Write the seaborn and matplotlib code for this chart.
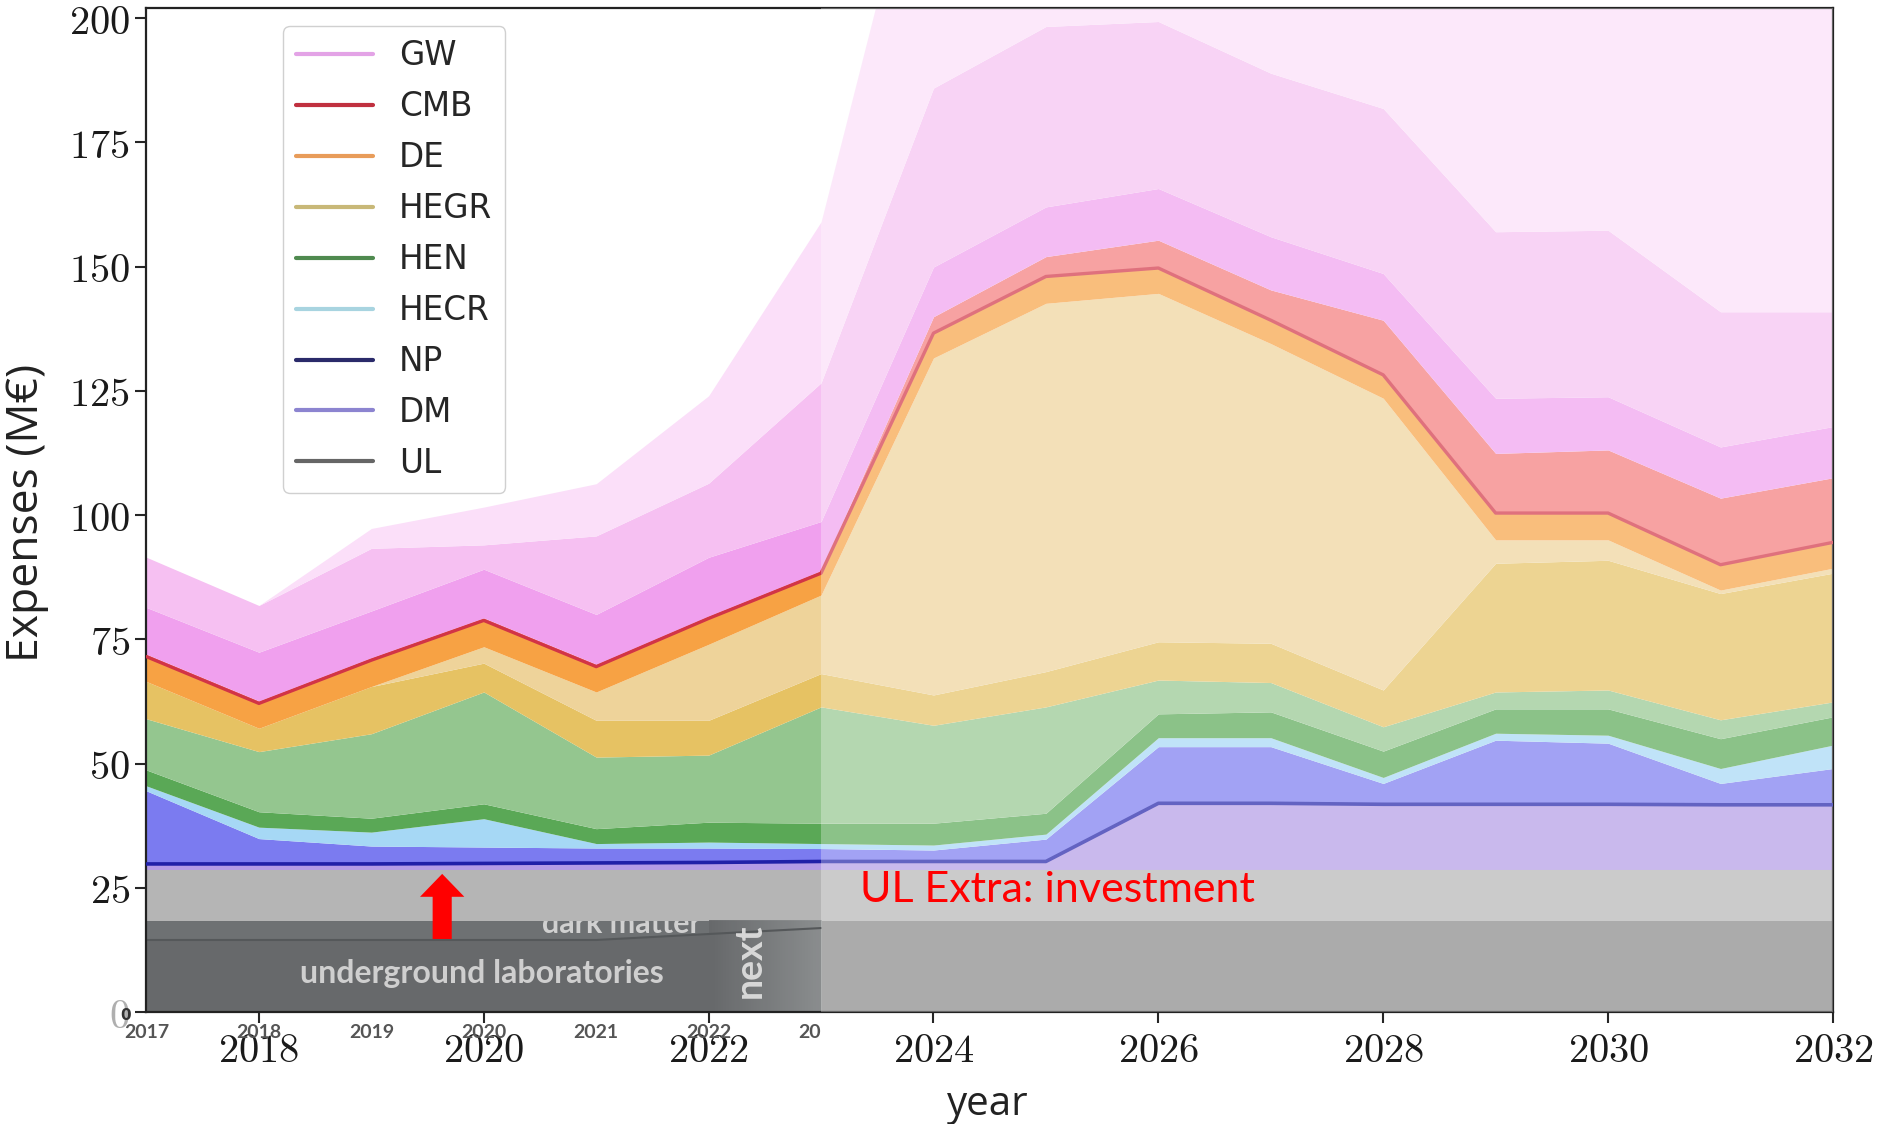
import numpy as np
import matplotlib
matplotlib.use("Agg")
import matplotlib.pyplot as plt
import seaborn as sns
from matplotlib.lines import Line2D
from matplotlib.patches import Rectangle
from matplotlib.colors import LinearSegmentedColormap
from matplotlib.ticker import FuncFormatter

years = [2017, 2018, 2019, 2020, 2021, 2022, 2023, 2024,
         2025, 2026, 2027, 2028, 2029, 2030, 2031, 2032]

# top edge of each stacked band (M€), bottom to top
ul_top = [18.4, 18.4, 18.4, 18.4, 18.4, 18.4, 18.4, 18.4,
          18.4, 18.4, 18.4, 18.4, 18.4, 18.4, 18.4, 18.4]
ul_extra_top = [28.7, 28.7, 28.7, 28.7, 28.7, 28.7, 28.7, 28.7,
                28.7, 28.7, 28.7, 28.7, 28.7, 28.7, 28.7, 28.7]
dm_top = [29.8, 29.8, 29.8, 29.9, 30.0, 30.1, 30.3, 30.3,
          30.3, 42.0, 42.0, 41.8, 41.8, 41.8, 41.7, 41.7]
np_top = [44.5, 34.9, 33.4, 33.2, 33.0, 33.0, 32.9, 32.6,
          34.8, 53.4, 53.4, 46.0, 54.7, 54.1, 46.0, 49.0]
hecr_top = [45.5, 37.2, 36.2, 38.9, 33.9, 34.2, 33.9, 33.6,
            35.8, 55.2, 55.2, 47.2, 56.1, 55.7, 49.0, 53.7]
hen_top = [48.7, 40.3, 39.0, 41.9, 36.9, 38.2, 38.0, 38.0,
           40.0, 60.0, 60.4, 52.5, 61.0, 61.0, 55.0, 59.4]
hen_extra_top = [59.0, 52.4, 56.0, 64.4, 51.3, 51.7, 61.4, 57.7,
                 61.4, 66.8, 66.3, 57.4, 64.4, 64.8, 58.8, 62.4]
hegr_top = [66.5, 57.1, 65.5, 70.2, 58.7, 58.7, 68.1, 63.8,
            68.5, 74.5, 74.2, 64.8, 90.3, 90.9, 84.2, 88.3]
hegr_extra_top = [66.5, 57.1, 65.5, 73.5, 64.4, 74.0, 83.9, 131.6,
                  142.6, 144.6, 134.5, 123.5, 95.0, 95.0, 84.9, 89.3]
de_top = [71.5, 62.1, 70.8, 78.8, 69.5, 79.2, 88.3, 136.6,
          148.0, 149.7, 139.2, 128.2, 100.4, 100.4, 90.0, 94.5]
cmb_top = [72.0, 62.6, 71.3, 79.3, 70.0, 79.7, 88.8, 139.9,
           152.0, 155.3, 145.3, 139.2, 112.4, 113.1, 103.4, 107.5]
gw_top = [81.4, 72.4, 80.7, 89.1, 80.0, 91.5, 98.7, 149.9,
          162.0, 165.7, 156.0, 148.6, 123.5, 123.8, 113.7, 117.8]
gw_extra_top = [91.5, 81.8, 93.3, 94.0, 95.8, 106.4, 126.6, 185.9,
                198.3, 199.3, 188.9, 181.8, 157.0, 157.3, 140.9, 140.9]
gw_far_top = [91.5, 81.8, 97.3, 101.6, 106.3, 124.0, 159.0, 248.0,
              255.0, 255.0, 250.0, 245.0, 235.0, 235.0, 225.0, 225.0]

band_tops = [ul_top, ul_extra_top, dm_top, np_top, hecr_top, hen_top,
             hen_extra_top, hegr_top, hegr_extra_top, de_top, cmb_top,
             gw_top, gw_extra_top, gw_far_top]
band_colors = ['#888888', '#b5b5b5', '#b39be6', '#7b7bf0', '#a6d8f5',
               '#5aa856', '#94c68f', '#e6c263', '#eed39a', '#f7a244',
               '#f47a7a', '#f0a0ee', '#f6c0f2', '#fbdff9']

legend_names = ['GW', 'CMB', 'DE', 'HEGR', 'HEN', 'HECR', 'NP', 'DM', 'UL']
legend_colors = ['#e3a3e6', '#c0303f', '#e89c5a', '#c8b878', '#4f8a4f',
                 '#a8d4e0', '#2a2a6a', '#8c84d0', '#666666']

x_ticks = [2018, 2020, 2022, 2024, 2026, 2028, 2030, 2032]
y_ticks = [0, 25, 50, 75, 100, 125, 150, 175, 200]

# pasted older roadmap snippet (bottom left)
pasted_years = [2017, 2021, 2023]
pasted_dm_line = [14.5, 14.5, 16.9]
pasted_ticks = [2017, 2018, 2019, 2020, 2021, 2022]

sns.set_theme(style="ticks")
plt.rcParams['font.family'] = ['DejaVu Sans']
plt.rcParams['mathtext.fontset'] = 'cm'

fig = plt.figure(figsize=(18.83, 11.24), dpi=100)
ax = fig.add_axes([0.0778, 0.0996, 0.8956, 0.8932])

# stacked bands
bottom = [0.0] * len(years)
for tops, color in zip(band_tops, band_colors):
    ax.fill_between(years, bottom, tops, color=color, lw=0, zorder=1)
    bottom = tops

sns.lineplot(x=years, y=de_top, color='#d23446', lw=2.4, ax=ax, zorder=3)
sns.lineplot(x=years, y=dm_top, color='#2020a8', lw=2.6, ax=ax, zorder=3)

# pasted picture of the old chart
ax.add_patch(Rectangle((2017, 0), 6, 18.4, color='#67696b', lw=0, zorder=2))
ax.fill_between(pasted_years, pasted_dm_line, 18.4, color='#6e7173', lw=0, zorder=2.05)
grad = LinearSegmentedColormap.from_list('g', ['#67696b', '#8f9293'])
ax.imshow(np.linspace(0, 1, 200)[None, :], cmap=grad, extent=[2022.0, 2023, 0, 18.4],
          aspect='auto', zorder=2.1, alpha=0.9)
ax.plot(pasted_years, pasted_dm_line, color='#55585a', lw=1.5, zorder=2.2)
ax.text(2019.98, 7.7, 'underground laboratories', color='#cfcfcf', fontsize=23,
        fontweight='bold', family='Lato', ha='center', va='center', zorder=2.3)
dm_txt = ax.text(2021.22, 16.0, 'dark matter', color='#d0d0d0', fontsize=22,
                 fontweight='bold', family='Lato', ha='center', va='baseline',
                 zorder=2.3, clip_on=True)
dm_txt.set_clip_path(Rectangle((2017, 0), 6, 18.4, transform=ax.transData))
ax.text(2022.37, 10.4, 'next', color='#d8d8d8', fontsize=27, fontweight='bold',
        family='Lato', rotation=90, ha='center', va='center', zorder=2.3)
for yr in pasted_ticks:
    ax.text(yr, -4.1, str(yr), fontsize=14, fontweight='bold', family='Lato',
            color='#555555', ha='center', va='center', clip_on=False)
ax.text(2023, -4.1, '20', fontsize=14, fontweight='bold', family='Lato',
        color='#555555', ha='right', va='center', clip_on=False)
ax.text(2016.81, -0.6, '0', fontsize=11, fontweight='bold', color='#333333',
        ha='center', va='center', clip_on=False)

# washed-out right side
ax.axvspan(2023, 2032, color='white', alpha=0.3, lw=0, zorder=4)

ax.text(2023.35, 24.6, 'UL Extra: investment', color='#ff0000', fontsize=31,
        family='Lato', ha='left', va='center', zorder=6)
ax.annotate('', xy=(2019.63, 27.8), xytext=(2019.63, 14.7),
            arrowprops=dict(arrowstyle='simple,head_width=2.9,head_length=1.5,tail_width=1.25',
                            color='#ff0000', lw=0, shrinkA=0, shrinkB=0,
                            mutation_scale=11), zorder=6)

handles = [Line2D([0], [0], color=c, lw=3) for c in legend_colors]
leg = ax.legend(handles, legend_names, loc='upper left', bbox_to_anchor=(0.081, 0.982),
                borderaxespad=0, fontsize=23.5, labelspacing=0.55, handlelength=2.35,
                handletextpad=0.8, borderpad=0.4, frameon=True, fancybox=True,
                edgecolor='#d0d0d0', framealpha=1)
leg.set_zorder(7)

ax.set_xlim(2017, 2032)
ax.set_ylim(0, 202)
ax.set_xticks(x_ticks)
ax.set_yticks(y_ticks)
fmt = FuncFormatter(lambda v, p: f'${v:.0f}$')
ax.xaxis.set_major_formatter(fmt)
ax.yaxis.set_major_formatter(fmt)
ax.tick_params(labelsize=29, length=8, width=1.5, direction='out', labelcolor='#1a1a1a')
ax.tick_params(axis='x', pad=6)
ax.tick_params(axis='y', pad=4)
for s in ax.spines.values():
    s.set_visible(True)
    s.set_linewidth(1.6)
    s.set_color('#222222')
ax.yaxis.get_major_ticks()[0].label1.set_alpha(0.35)

fig.text(0.014, 0.544, 'Expenses (M€)', rotation=90, ha='center', va='center',
         fontsize=32, family='Open Sans', color='#222222')
fig.text(0.5247, 0.017, 'year', ha='center', va='center', fontsize=29,
         family='Open Sans', color='#222222')

fig.savefig('out.png', dpi=100)
